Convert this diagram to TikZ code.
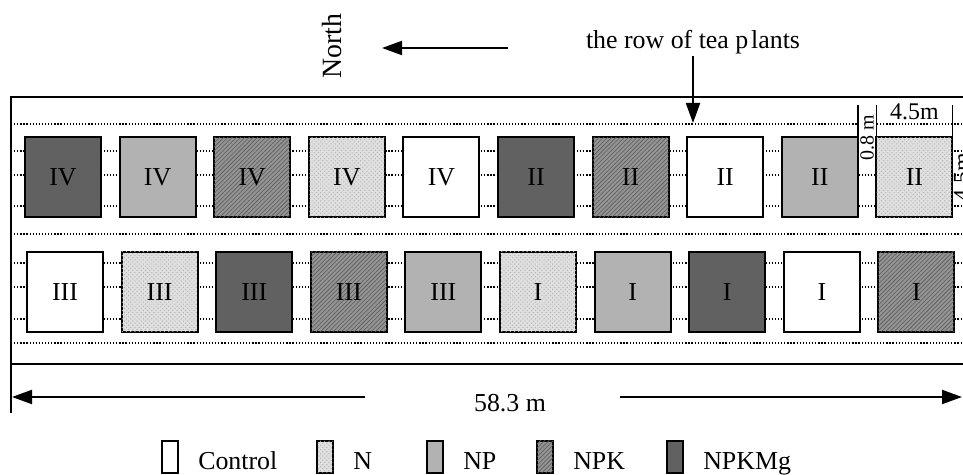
\documentclass[tikz,border=0pt]{standalone}
\usepackage{fontspec}
\setmainfont{Liberation Serif}
\usepackage{tikz}
\usetikzlibrary{positioning,arrows.meta,patterns}

\begin{document}
\begin{tikzpicture}[>={Triangle[length=5mm,width=3.5mm]},node distance=4.65mm,
   every node/.style={font=\fontsize{18.4}{20}\selectfont,inner sep=0.5mm},
   plot/.style={draw,line width=0.5mm,minimum width=19mm,minimum height=20mm,inner sep=0pt,outer sep=0pt},
   key/.style={draw,line width=0.4mm,minimum width=4mm,minimum height=8mm,inner sep=0pt,outer sep=0pt},
   keylab/.style={text height=6.8mm,text depth=0.5mm,inner ysep=0pt},
   fC/.style={fill=white},
   fN/.style={fill=black!12,postaction={pattern=crosshatch dots,pattern color=black!30}},
   fNP/.style={fill=black!30},
   fNPK/.style={fill=black!42,postaction={pattern=north east lines,pattern color=black!65}},
   fMg/.style={fill=black!62},
   row/.style={line width=0.9pt,dash pattern=on 0.9pt off 1.3pt},
   frame/.style={line width=0.5mm}]
 \useasboundingbox (0,0) rectangle (240.75mm,118.75mm);
 % field frame and tea rows
 \draw[frame] (242mm,94.5mm) -- (2.75mm,94.5mm) -- (2.75mm,15.5mm);
 \draw[frame] (2.75mm,27.75mm) -- (242mm,27.75mm);
 \draw[row] (2.75mm,87.75mm) -- (242mm,87.75mm)
            (2.75mm,81mm) -- (242mm,81mm)
            (2.75mm,75mm) -- (242mm,75mm)
            (2.75mm,67.25mm) -- (242mm,67.25mm)
            (2.75mm,60.25mm) -- (242mm,60.25mm)
            (2.75mm,53mm) -- (242mm,53mm)
            (2.75mm,47mm) -- (242mm,47mm)
            (2.75mm,39mm) -- (242mm,39mm)
            (2.75mm,33mm) -- (242mm,33mm);
 % upper plots
 \node[plot,fMg] (t1) at (15.75mm,74.4mm) {IV};
 \node[plot,fNP] (t2) [right=of t1] {IV};
 \node[plot,fNPK] (t3) [right=of t2] {IV};
 \node[plot,fN] (t4) [right=of t3] {IV};
 \node[plot,fC] (t5) [right=of t4] {IV};
 \node[plot,fMg] (t6) [right=of t5] {II};
 \node[plot,fNPK] (t7) [right=of t6] {II};
 \node[plot,fC] (t8) [right=of t7] {II};
 \node[plot,fNP] (t9) [right=of t8] {II};
 \node[plot,fN] (t10) [right=of t9] {II};
 % lower plots
 \node[plot,fC] (b1) at (16.25mm,45.75mm) {III};
 \node[plot,fN] (b2) [right=of b1] {III};
 \node[plot,fMg] (b3) [right=of b2] {III};
 \node[plot,fNPK] (b4) [right=of b3] {III};
 \node[plot,fNP] (b5) [right=of b4] {III};
 \node[plot,fN] (b6) [right=of b5] {I};
 \node[plot,fNP] (b7) [right=of b6] {I};
 \node[plot,fMg] (b8) [right=of b7] {I};
 \node[plot,fC] (b9) [right=of b8] {I};
 \node[plot,fNPK] (b10) [right=of b9] {I};
 % plot sizes
 \path (t9.north east) -- node[rotate=90,fill=white,inner sep=0.3mm,font=\fontsize{14.2}{16}\selectfont] (gap) {0.8 m} (t10.north west);
 \coordinate (ext) at (0,92.5mm);
 \draw[line width=0.4mm] (t9.north east) -- (t9.north east |- ext)
                         (t10.north west) -- (t10.north west |- ext)
                         (t10.north east) -- (t10.north east |- ext);
 \node[inner sep=0.3mm,font=\fontsize{17}{19}\selectfont] (wd) [above=4mm of t10] {4.5m};
 \node[rotate=90,inner sep=0.3mm,font=\fontsize{17}{19}\selectfont] (ht) at ([xshift=2.4mm]t10.east) {4.5m};
 % orientation
 \node[rotate=90,font=\fontsize{19.8}{22}\selectfont] (north) at (83mm,107.25mm) {North};
 \coordinate (na) at (127mm,106.75mm);
 \coordinate (nb) at (95.5mm,106.75mm);
 \draw[->,frame] (na) -- (nb);
 \node[anchor=base] (tea) at (173.25mm,106.7mm) {the row of tea p\kern2pt lants};
 \coordinate (tp) at (0,88mm);
 \draw[->,frame] (tea) -- (tea |- tp);
 % total length
 \node (len) at (127.5mm,18mm) {58.3 m};
 \coordinate (dl) at (3mm,19.5mm);
 \coordinate (da) at (91.25mm,19.5mm);
 \coordinate (db) at (155mm,19.5mm);
 \coordinate (dr) at (240.5mm,19.5mm);
 \draw[->,frame] (da) -- (dl);
 \draw[->,frame] (db) -- (dr);
 % legend
 \node[key,fC] (kc) at (42.5mm,4.5mm) {};
 \node[keylab] (lc) [right=4.5mm of kc] {Control};
 \node[key,fN] (kn) at (81.25mm,4.5mm) {};
 \node[keylab] (ln) [right=4.5mm of kn] {N};
 \node[key,fNP] (knp) at (108.75mm,4.5mm) {};
 \node[keylab] (lnp) [right=4.5mm of knp] {NP};
 \node[key,fNPK] (knpk) at (136.25mm,4.5mm) {};
 \node[keylab] (lnpk) [right=4.5mm of knpk] {NPK};
 \node[key,fMg] (kmg) at (168.75mm,4.5mm) {};
 \node[keylab] (lmg) [right=4.5mm of kmg] {NPKMg};
\end{tikzpicture}
\end{document}
